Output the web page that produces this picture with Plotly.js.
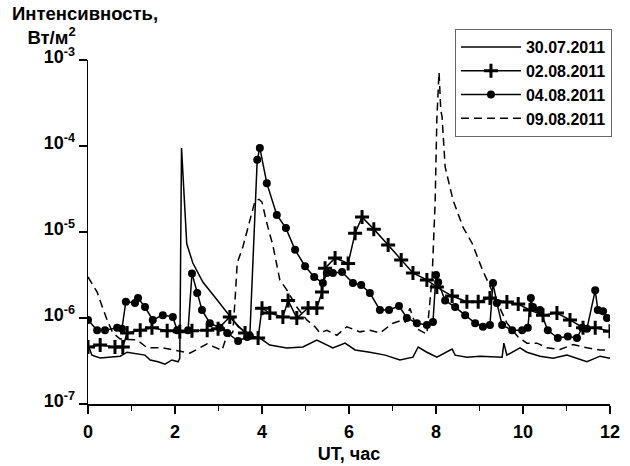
<!DOCTYPE html>
<html>
<head>
<meta charset="utf-8">
<script src="https://cdn.plot.ly/plotly-3.0.1.min.js"></script>
<style>html,body{margin:0;padding:0;background:#fff;}#chart{width:630px;height:466px;}</style>
</head>
<body>
<div id="chart"></div>
<script>
// ---- Data (UT hours, intensity W/m^2) ----
const names = ["30.07.2011", "02.08.2011", "04.08.2011", "09.08.2011"];

const x30 = [0, 0.09, 0.28, 0.51, 0.74, 0.90, 1.08, 1.31, 1.43, 1.61, 1.77, 1.93, 2.07, 2.11, 2.15, 2.27, 2.41, 2.64, 2.97, 3.20, 3.45, 3.66, 3.79, 3.95, 4.18, 4.57, 4.94, 5.26, 5.63, 5.91, 6.14, 6.48, 6.83, 7.17, 7.47, 7.59, 7.79, 8.02, 8.37, 8.44, 8.71, 9.01, 9.31, 9.52, 9.56, 9.63, 9.93, 10.09, 10.39, 10.69, 11.01, 11.24, 11.47, 11.77, 12.0];
const y30 = [4.85e-7, 3.7e-7, 3.43e-7, 3.5e-7, 3.6e-7, 4.0e-7, 3.9e-7, 3.7e-7, 3.25e-7, 3.1e-7, 2.9e-7, 3.25e-7, 3.1e-7, 3.4e-7, 9.5e-5, 7.3e-6, 4.36e-6, 2.62e-6, 1.62e-6, 1.14e-6, 7.9e-7, 6.7e-7, 6.0e-7, 5.85e-7, 4.85e-7, 4.48e-7, 4.6e-7, 5.55e-7, 4.48e-7, 5.1e-7, 4.25e-7, 4.0e-7, 3.7e-7, 3.25e-7, 3.5e-7, 4.6e-7, 4.0e-7, 3.5e-7, 4.36e-7, 3.7e-7, 3.5e-7, 3.6e-7, 3.5e-7, 3.5e-7, 5.1e-7, 3.7e-7, 4.5e-7, 4.0e-7, 3.6e-7, 3.4e-7, 3.7e-7, 3.4e-7, 3.1e-7, 3.6e-7, 3.4e-7];

const x02 = [0, 0.28, 0.62, 0.80, 0.90, 1.20, 1.47, 1.82, 2.11, 2.39, 2.74, 2.99, 3.26, 3.61, 3.91, 4.00, 4.18, 4.48, 4.60, 4.80, 5.06, 5.26, 5.38, 5.45, 5.68, 5.98, 6.14, 6.30, 6.57, 6.90, 7.20, 7.47, 7.79, 8.02, 8.37, 8.71, 8.97, 9.24, 9.63, 9.89, 10.16, 10.46, 10.78, 11.08, 11.38, 11.66, 12.0];
const y02 = [4.6e-7, 4.85e-7, 4.6e-7, 4.6e-7, 6.7e-7, 7.2e-7, 7.7e-7, 7.1e-7, 6.9e-7, 7.1e-7, 7.2e-7, 7.5e-7, 1.03e-6, 6.7e-7, 5.85e-7, 1.3e-6, 1.14e-6, 1.03e-6, 1.6e-6, 1.0e-6, 1.31e-6, 1.31e-6, 2.0e-6, 3.8e-6, 4.99e-6, 4.3e-6, 9.7e-6, 1.49e-5, 1.08e-5, 7.06e-6, 4.72e-6, 3.34e-6, 2.77e-6, 2.29e-6, 1.8e-6, 1.55e-6, 1.55e-6, 1.71e-6, 1.53e-6, 1.45e-6, 1.24e-6, 1.08e-6, 1.14e-6, 9.5e-7, 7.7e-7, 7.7e-7, 7.0e-7];

const x04 = [0, 0.21, 0.39, 0.67, 0.78, 0.87, 1.08, 1.15, 1.31, 1.49, 1.72, 1.95, 2.05, 2.30, 2.39, 2.51, 2.62, 2.80, 3.03, 3.20, 3.45, 3.66, 3.72, 3.89, 3.95, 4.11, 4.34, 4.55, 4.76, 4.99, 5.20, 5.40, 5.49, 5.63, 5.84, 6.09, 6.28, 6.48, 6.71, 6.92, 7.15, 7.33, 7.56, 7.79, 7.93, 8.00, 8.05, 8.21, 8.44, 8.67, 8.90, 9.08, 9.24, 9.31, 9.40, 9.52, 9.75, 9.98, 10.11, 10.18, 10.23, 10.39, 10.57, 10.80, 11.03, 11.24, 11.36, 11.47, 11.66, 11.72, 11.84, 11.93];
const y04 = [9.5e-7, 7.2e-7, 7.2e-7, 7.7e-7, 7.5e-7, 1.55e-6, 1.49e-6, 1.71e-6, 1.34e-6, 9.5e-7, 1.08e-6, 1.03e-6, 7.2e-7, 7.2e-7, 3.3e-6, 1.95e-6, 1.24e-6, 8.7e-7, 7.7e-7, 6.7e-7, 5.4e-7, 6.0e-7, 6.2e-7, 6.9e-5, 9.5e-5, 3.7e-5, 1.58e-5, 1.11e-5, 6.2e-6, 4.0e-6, 3.0e-6, 2.55e-6, 3.34e-6, 3.34e-6, 3.42e-6, 2.55e-6, 2.42e-6, 1.95e-6, 1.24e-6, 1.24e-6, 1.38e-6, 1.0e-6, 8.7e-7, 8.3e-7, 9.0e-7, 3.16e-6, 2.6e-6, 1.6e-6, 1.34e-6, 1.08e-6, 8.7e-7, 7.9e-7, 8.3e-7, 2.55e-6, 1.49e-6, 8.3e-7, 7.2e-7, 7.2e-7, 7.7e-7, 1.71e-6, 1.34e-6, 1.24e-6, 7.2e-7, 5.85e-7, 6.1e-7, 5.85e-7, 7.7e-7, 7.5e-7, 2.1e-6, 1.24e-6, 1.2e-6, 1.0e-6];

const x09 = [0, 0.21, 0.34, 0.44, 0.57, 0.74, 1.13, 1.36, 1.72, 2.34, 2.74, 3.08, 3.15, 3.33, 3.38, 3.43, 3.56, 3.72, 3.84, 3.93, 4.00, 4.11, 4.25, 4.41, 4.57, 4.80, 5.03, 5.22, 5.33, 5.49, 5.72, 5.95, 6.25, 6.48, 6.71, 7.01, 7.24, 7.29, 7.40, 7.56, 7.79, 7.91, 7.98, 8.02, 8.07, 8.11, 8.14, 8.21, 8.39, 8.62, 8.83, 9.07, 9.47, 9.63, 9.89, 10.09, 10.32, 10.55, 10.85, 11.15, 11.47, 11.77, 12.0];
const y09 = [3.0e-6, 2.0e-6, 1.3e-6, 9.5e-7, 6.7e-7, 5.7e-7, 5.55e-7, 4.5e-7, 4.5e-7, 3.9e-7, 5.0e-7, 4.2e-7, 5.4e-7, 6.9e-7, 1.6e-6, 4.36e-6, 6.7e-6, 1.3e-5, 2.3e-5, 2.4e-5, 2.23e-5, 1.27e-5, 7.0e-6, 2.77e-6, 2.12e-6, 1.34e-6, 9.5e-7, 7.9e-7, 6.7e-7, 7.2e-7, 6.3e-7, 7.9e-7, 6.9e-7, 7.2e-7, 6.7e-7, 8.7e-7, 9.5e-7, 9.0e-7, 1.3e-6, 7.5e-7, 6.5e-7, 2.9e-6, 2.2e-5, 2.1e-4, 7.2e-4, 2.6e-4, 2.17e-4, 5.7e-5, 2.36e-5, 1.14e-5, 7.4e-6, 3.6e-6, 1.34e-6, 8.7e-7, 6.0e-7, 5.1e-7, 5.1e-7, 4.5e-7, 4.3e-7, 4.9e-7, 4.5e-7, 4.25e-7, 4.25e-7];

const xTickVals = [0, 2, 4, 6, 8, 10, 12];
const yTickVals = [1e-7, 1e-6, 1e-5, 1e-4, 1e-3];
const yTickText = ["10<sup>-7</sup>", "10<sup>-6</sup>", "10<sup>-5</sup>", "10<sup>-4</sup>", "10<sup>-3</sup>"];
const yTitle = "Интенсивность,<br>&nbsp;&nbsp;&nbsp;Вт/м<sup>2</sup>";

const FONT = "Liberation Sans, Arial, sans-serif";

const traces = [
  {x: x30, y: y30, name: names[0], type: "scatter", mode: "lines",
   line: {color: "#000", width: 1.5}},
  {x: x02, y: y02, name: names[1], type: "scatter", mode: "lines+markers",
   line: {color: "#000", width: 1.5},
   marker: {symbol: "cross-thin", size: 10, color: "#000", line: {color: "#000", width: 3}}},
  {x: x04, y: y04, name: names[2], type: "scatter", mode: "lines+markers",
   line: {color: "#000", width: 1.5},
   marker: {symbol: "circle", size: 8, color: "#000"}},
  {x: x09, y: y09, name: names[3], type: "scatter", mode: "lines",
   line: {color: "#000", width: 1.5, dash: "8px,5px"}}
];

const layout = {
  width: 630, height: 466,
  margin: {l: 88, r: 20, t: 60, b: 62},
  paper_bgcolor: "#fff", plot_bgcolor: "#fff",
  font: {family: FONT, color: "#000", size: 18, weight: "bold"},
  showlegend: true,
  legend: {
    x: 0.703, y: 1.09, xanchor: "left", yanchor: "top",
    bgcolor: "#fff", bordercolor: "#666", borderwidth: 1,
    font: {family: FONT, size: 16, color: "#000", weight: "bold"},
    itemwidth: 60, tracegroupgap: 0
  },
  xaxis: {
    range: [0, 12], tickvals: xTickVals, ticks: "outside", ticklen: 8, tickwidth: 1.5,
    tickcolor: "#000", showline: true, linecolor: "#000", linewidth: 1.5,
    showgrid: false, zeroline: false, mirror: false,
    tickfont: {family: FONT, size: 18, weight: "bold"},
    ticklabelstandoff: 3,
    minor: {dtick: 1, ticks: "outside", ticklen: 5, tickwidth: 1.5, tickcolor: "#000", showgrid: false},
    title: {text: "UT, час", font: {family: FONT, size: 18, weight: "bold"}, standoff: 6}
  },
  yaxis: {
    type: "log", range: [-7, -3], tickvals: yTickVals, ticktext: yTickText,
    ticks: "outside", ticklen: 8, tickwidth: 1.5, tickcolor: "#000",
    showline: true, linecolor: "#000", linewidth: 1.5,
    showgrid: false, zeroline: false, ticklabelshift: -3,
    tickfont: {family: FONT, size: 18, weight: "bold"}
  },
  annotations: [
    {text: yTitle, xref: "paper", yref: "paper", x: -0.147, y: 1.168,
     xanchor: "left", yanchor: "top", align: "left", showarrow: false, borderpad: 0,
     font: {family: FONT, size: 18.5, weight: "bold", color: "#000"}}
  ]
};

Plotly.newPlot("chart", traces, layout, {staticPlot: true, displayModeBar: false});
</script>
</body>
</html>
